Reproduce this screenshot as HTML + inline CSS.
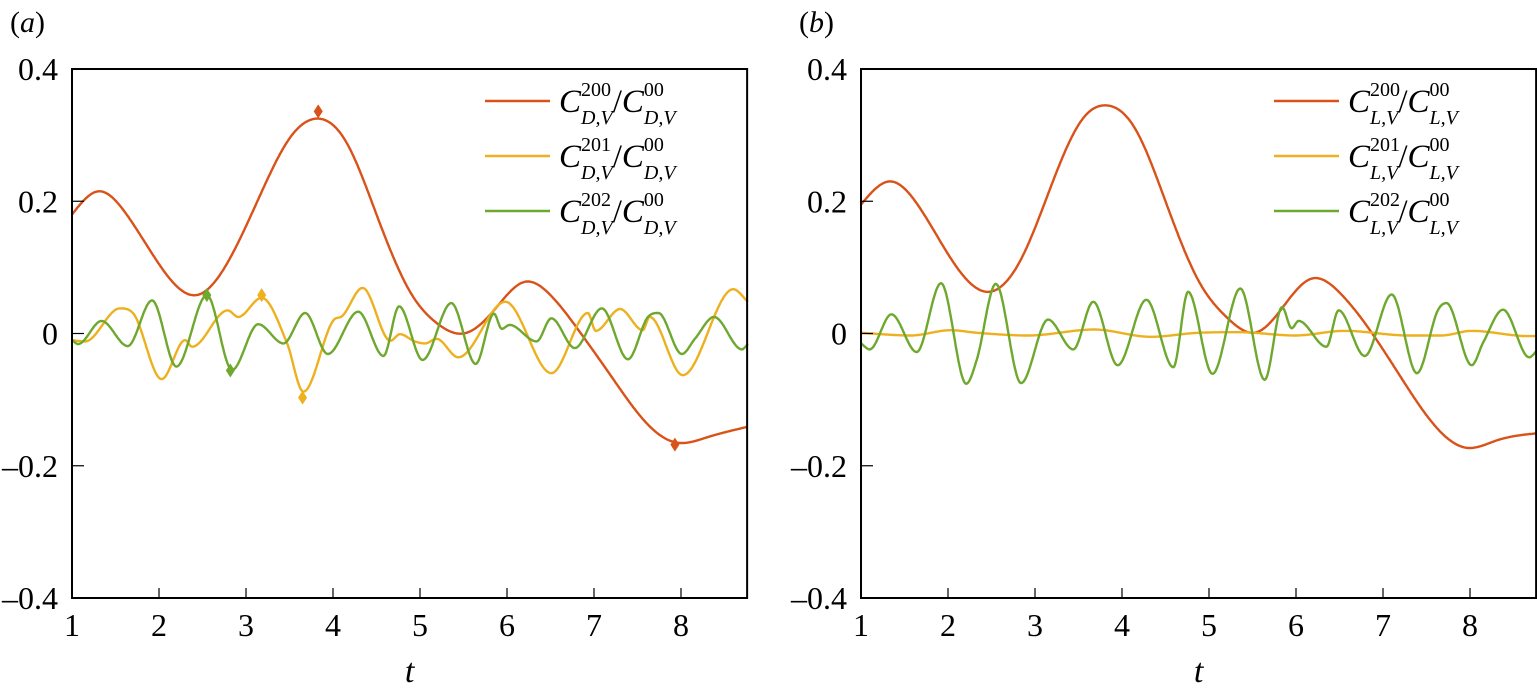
<!DOCTYPE html>
<html><head><meta charset="utf-8"><style>
body{margin:0;background:#fff;}
svg{display:block;}
svg text{font-family:"Liberation Serif","DejaVu Serif",serif;}
</style></head><body>
<svg id="chart" width="1537" height="695" viewBox="0 0 1537 695" xmlns="http://www.w3.org/2000/svg" font-family="Liberation Serif, serif"></svg>
<script>
// ---- data ----
const xTicks=[1,2,3,4,5,6,7,8];
const yTicks=[-0.4,-0.2,0,0.2,0.4];
const yTickLabels=["\u20130.4","\u20130.2","0","0.2","0.4"];
// panel a
const aRedT=[1,1.3,1.6,2.0,2.43,2.8,3.2,3.5,3.82,4.15,4.5,4.9,5.2,5.5,5.85,6.2,6.5,6.85,7.2,7.6,7.95,8.3,8.77];
const aRedV=[0.18,0.215,0.185,0.105,0.058,0.11,0.22,0.295,0.325,0.29,0.18,0.06,0.015,0.0,0.035,0.078,0.058,0.0,-0.065,-0.135,-0.165,-0.157,-0.141];
const aYelT=[1.0,1.15,1.55,1.7,2.03,2.3,2.38,2.79,2.91,3.18,3.47,3.66,4.02,4.09,4.34,4.66,4.77,4.94,5.06,5.19,5.44,5.98,6.51,6.93,7.02,7.3,7.56,7.64,8.02,8.6,8.77];
const aYelV=[-0.01,-0.012,0.038,0.031,-0.069,-0.01,-0.02,0.035,0.025,0.054,-0.014,-0.088,0.022,0.025,0.069,-0.011,-0.001,-0.012,-0.015,-0.008,-0.036,0.048,-0.06,0.031,0.004,0.037,0.005,0.025,-0.063,0.067,0.048];
const aGrnT=[1.0,1.07,1.34,1.64,1.92,2.2,2.55,2.84,3.14,3.43,3.68,3.94,4.29,4.58,4.76,5.03,5.36,5.64,5.85,5.94,6.03,6.34,6.51,6.78,7.09,7.39,7.62,7.74,8.01,8.16,8.38,8.7,8.77];
const aGrnV=[-0.01,-0.016,0.019,-0.019,0.05,-0.05,0.058,-0.055,0.014,-0.015,0.031,-0.031,0.033,-0.034,0.041,-0.04,0.046,-0.046,0.03,0.007,0.013,-0.012,0.023,-0.022,0.038,-0.039,0.025,0.031,-0.031,-0.008,0.025,-0.024,-0.016];
const aMarkT=[3.83,7.93,3.18,3.65,2.55,2.82];
const aMarkV=[0.336,-0.168,0.058,-0.097,0.058,-0.056];
const aMarkS=[0,0,1,1,2,2];
// panel b
const bRedT=[1,1.33,1.65,2.05,2.45,2.85,3.25,3.55,3.82,4.15,4.5,4.9,5.2,5.55,5.85,6.18,6.5,6.85,7.2,7.6,7.97,8.3,8.77];
const bRedV=[0.195,0.23,0.195,0.11,0.063,0.115,0.245,0.325,0.345,0.31,0.2,0.075,0.025,0.002,0.04,0.083,0.062,0.005,-0.065,-0.14,-0.173,-0.162,-0.151];
const bYelT=[1.0,1.57,2.03,2.34,2.92,3.68,4.33,4.87,5.34,5.99,6.56,7.29,7.67,8.02,8.67,8.77];
const bYelV=[0.001,-0.003,0.005,0.001,-0.003,0.006,-0.005,0.001,0.002,-0.003,0.004,-0.003,-0.003,0.004,-0.004,-0.004];
const bGrnT=[1.0,1.1,1.35,1.64,1.92,2.21,2.33,2.55,2.84,3.15,3.44,3.67,3.95,4.28,4.59,4.76,5.04,5.36,5.64,5.84,5.95,6.03,6.35,6.49,6.79,7.1,7.39,7.63,7.73,8.02,8.15,8.38,8.68,8.77];
const bGrnV=[-0.015,-0.024,0.029,-0.028,0.076,-0.076,-0.04,0.075,-0.075,0.021,-0.024,0.048,-0.048,0.051,-0.051,0.063,-0.061,0.068,-0.07,0.04,0.008,0.019,-0.02,0.035,-0.034,0.059,-0.06,0.035,0.046,-0.048,-0.014,0.036,-0.036,-0.026];
const colors=["#d9521a","#edb120","#6fa82e"];

const NS="http://www.w3.org/2000/svg";
const svg=document.getElementById('chart');
function mk(tag,attrs,parent){const e=document.createElementNS(NS,tag);for(const k in attrs)e.setAttribute(k,attrs[k]);(parent||svg).appendChild(e);return e;}

function hermite(T,V,m){
  const n=T.length;
  return function(t){let i=0;while(i<n-2&&t>T[i+1])i++;const h=T[i+1]-T[i],s=(t-T[i])/h;const h00=2*s*s*s-3*s*s+1,h10=s*s*s-2*s*s+s,h01=-2*s*s*s+3*s*s,h11=s*s*s-s*s;return h00*V[i]+h10*h*m[i]+h01*V[i+1]+h11*h*m[i+1];};
}
function monotone(T,V){
  const n=T.length,d=[],m=[];
  for(let i=0;i<n-1;i++)d.push((V[i+1]-V[i])/(T[i+1]-T[i]));
  m[0]=d[0];m[n-1]=d[n-2];
  for(let i=1;i<n-1;i++){m[i]=(d[i-1]*d[i]<=0)?0:(d[i-1]+d[i])/2;}
  for(let i=0;i<n-1;i++){if(d[i]===0){m[i]=0;m[i+1]=0;continue;}const a=m[i]/d[i],b=m[i+1]/d[i],s=a*a+b*b;if(s>9){const t=3/Math.sqrt(s);m[i]=t*a*d[i];m[i+1]=t*b*d[i];}}
  return hermite(T,V,m);
}
function spline(T,V){ // natural cubic spline
  const n=T.length,h=[],al=[],l=[1],mu=[0],z=[0],c=new Array(n).fill(0),b=[],d=[];
  for(let i=0;i<n-1;i++)h.push(T[i+1]-T[i]);
  for(let i=1;i<n-1;i++)al[i]=3/h[i]*(V[i+1]-V[i])-3/h[i-1]*(V[i]-V[i-1]);
  for(let i=1;i<n-1;i++){l[i]=2*(T[i+1]-T[i-1])-h[i-1]*mu[i-1];mu[i]=h[i]/l[i];z[i]=(al[i]-h[i-1]*z[i-1])/l[i];}
  for(let j=n-2;j>=0;j--){c[j]=(j>0?z[j]-mu[j]*c[j+1]:0);b[j]=(V[j+1]-V[j])/h[j]-h[j]*(c[j+1]+2*c[j])/3;d[j]=(c[j+1]-c[j])/(3*h[j]);}
  c[0]=0;b[0]=(V[1]-V[0])/h[0]-h[0]*(c[1])/3;d[0]=c[1]/(3*h[0]);
  return function(t){let i=0;while(i<n-2&&t>T[i+1])i++;const x=t-T[i];return V[i]+b[i]*x+c[i]*x*x+d[i]*x*x*x;};
}

function panel(id,x0,letter,sub,series,marks){
  const g=mk('g',{});
  
  
  const xUnit=87,tMax=8.76,top=69,bot=598;
  const X=t=>x0+(t-1)*xUnit;
  const Y=v=>333.5-v*661.25;
  const x1=X(tMax);
  const lab=mk('text',{x:x0-62,y:32,'font-size':30},g);
  
  
  lab.innerHTML='(<tspan font-style="italic">'+letter+'</tspan>)';
  series.forEach((s,k)=>{
    const f=(k===0?spline:monotone)(s[0],s[1]);let d='';
    for(let t=s[0][0];t<=s[0][s[0].length-1]+1e-9;t+=0.01){d+=(d?'L':'M')+X(t).toFixed(1)+','+Y(f(t)).toFixed(1);}
    const p=mk('path',{d:d,fill:'none',stroke:colors[k],'stroke-width':2.4},g);
    
    
  });
  if(marks){marks[0].forEach((t,i)=>{const cx=X(t),cy=Y(marks[1][i]);
    const m=mk('path',{d:`M${cx},${cy-7}L${cx+4.5},${cy}L${cx},${cy+7}L${cx-4.5},${cy}Z`,fill:colors[marks[2][i]]},g);
    
    });}
  const fr=mk('rect',{x:x0,y:top,width:x1-x0,height:bot-top,fill:'none',stroke:'#000','stroke-width':2},g);
  
  
  xTicks.forEach(t=>{
    if(t>1)mk('line',{x1:X(t),x2:X(t),y1:bot,y2:bot-10,stroke:'#000','stroke-width':1.2},g);
    const tx=mk('text',{x:X(t),y:636,'font-size':32,'text-anchor':'middle'},g);
    
    
    tx.textContent=t;
  });
  yTicks.forEach((v,i)=>{
    if(v>-0.4&&v<0.4)mk('line',{x1:x0,x2:x0+12,y1:Y(v),y2:Y(v),stroke:'#000','stroke-width':1.2},g);
    const ty=mk('text',{x:x0-14,y:Y(v)+11,'font-size':32,'text-anchor':'end'},g);
    
    
    ty.textContent=yTickLabels[i];
  });
  const xt=mk('text',{x:(x0+x1)/2,y:682,'font-size':34,'font-style':'italic','text-anchor':'middle'},g);
  
  
  xt.textContent='t';
  ['200','201','202'].forEach((sup,k)=>{
    const ly=101+k*55;
    const lg=mk('g',{},g);
    
    
    mk('line',{x1:x0+413,x2:x0+478,y1:ly,y2:ly,stroke:colors[k],'stroke-width':2.6},lg);
    const tx=mk('text',{x:x0+487,y:ly+11,'font-size':33},lg);
    tx.innerHTML=`<tspan font-style="italic">C</tspan><tspan font-size="20" dy="-16">${sup}</tspan><tspan font-size="20" font-style="italic" dx="-30" dy="28">${sub}</tspan><tspan dy="-12">/</tspan><tspan font-style="italic">C</tspan><tspan font-size="20" dy="-16">00</tspan><tspan font-size="20" font-style="italic" dx="-20" dy="28">${sub}</tspan>`;
  });
}
panel('a',72,'a','D,V',[[aRedT,aRedV],[aYelT,aYelV],[aGrnT,aGrnV]],[aMarkT,aMarkV,aMarkS]);
panel('b',861,'b','L,V',[[bRedT,bRedV],[bYelT,bYelV],[bGrnT,bGrnV]],null);
</script>
</body></html>
